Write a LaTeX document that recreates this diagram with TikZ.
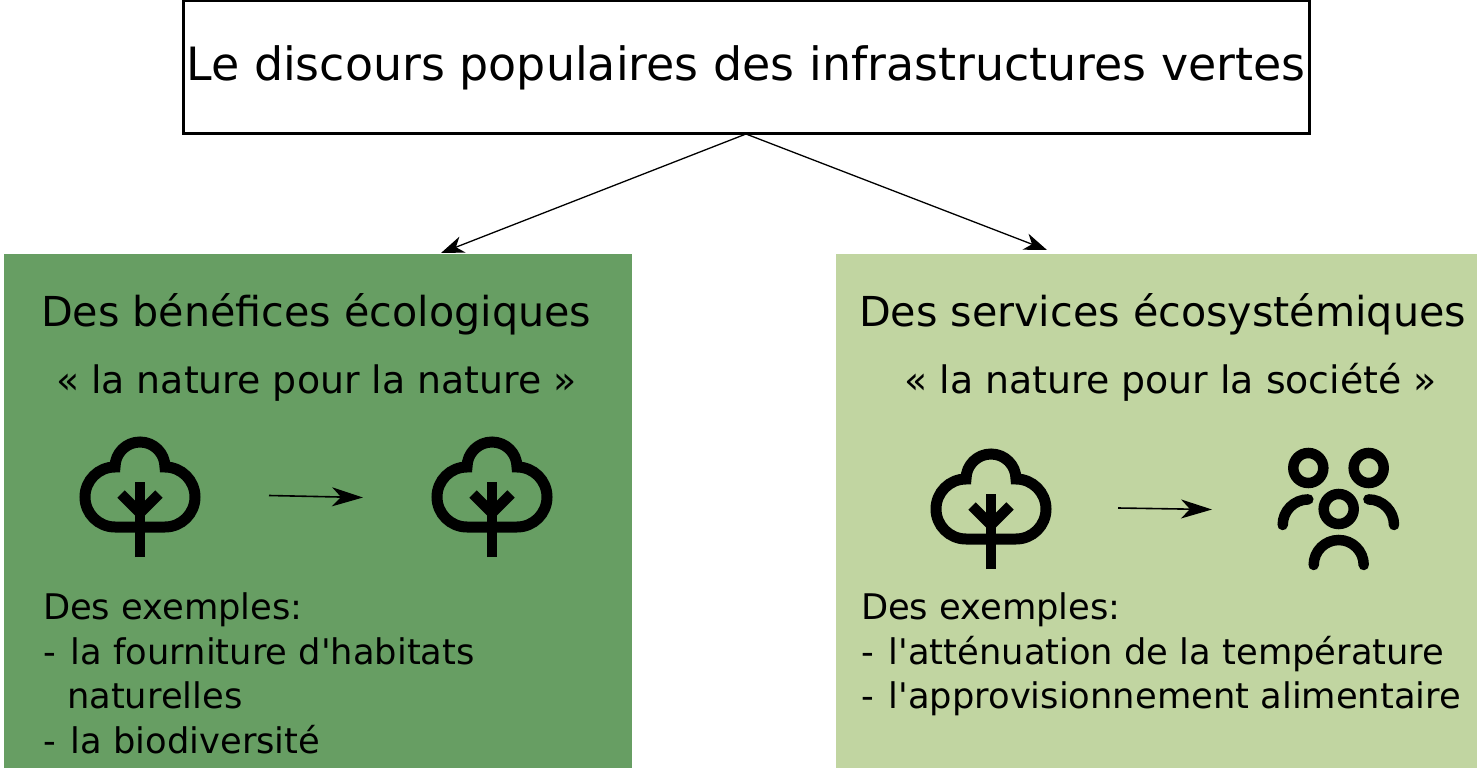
\documentclass[tikz,border=0pt]{standalone}
\usepackage{fontspec}
\newfontfamily\dejavu{DejaVu Sans}
\usetikzlibrary{arrows.meta,positioning}
\definecolor{boxgreen}{HTML}{679E63}
\definecolor{boxlight}{HTML}{C1D5A1}
\tikzset{
  treeicon/.pic={
    \draw[line width=11pt] (-25,-90) arc[start angle=180,end angle=360,radius=25]
      arc[start angle=-90,end angle=90,radius=30] -- (-25,-30)
      arc[start angle=90,end angle=270,radius=30] -- cycle;
    \draw[line width=10.5pt] (0,0) -- (0,-75);
    \draw[line width=10.5pt] (-19,-63) -- (0,-44) -- (19,-63);
  },
  peopleicon/.pic={
    \draw[line width=10.5pt] (-30.4,-41) circle (15);
    \draw[line width=10.5pt] (30,-41) circle (15);
    \draw[line width=10.5pt] (0,0) circle (15);
    \draw[line width=10.5pt,line cap=round] (-56,16) arc[start angle=180,end angle=270,radius=25.6];
    \draw[line width=10.5pt,line cap=round] (55.3,16) arc[start angle=0,end angle=-90,radius=25.6];
    \draw[line width=10.5pt,line cap=round] (-25,56) arc[start angle=180,end angle=360,radius=25];
  }
}
\newcommand{\dashitem}{-\hspace{15pt}}
\begin{document}
\begin{tikzpicture}[x=1pt,y=-1pt]
\tikzstyle{every node} = [inner sep=0pt, outer sep=0pt, text=black]
\tikzstyle{flow} = [-{Stealth[length=23pt,width=17pt,inset=7pt]}, line width=1.3pt]
\tikzstyle{link} = [-{Stealth[length=31pt,width=19pt,inset=9pt]}, line width=1.6pt]
\tikzstyle{panel} = [anchor=north west, minimum height=514pt]
\tikzstyle{heading} = [anchor=base west, font=\dejavu\fontsize{41.25}{48}\selectfont]
\tikzstyle{motto} = [anchor=base west, font=\dejavu\fontsize{37.85}{44}\selectfont]
\tikzstyle{body} = [anchor=north west, align=left, font=\dejavu\fontsize{35.3}{44.4}\selectfont]
\useasboundingbox (0,0) rectangle (1481,773);
\node (title) [draw, line width=3pt, minimum width=1126pt, minimum height=133pt, anchor=north west, font=\dejavu\fontsize{45.9}{54}\selectfont] at (183,1) {Le discours populaires des infrastructures vertes};
\node (eco) [panel, fill=boxgreen, minimum width=628pt] at (4,254) {};
\node (serv) [panel, fill=boxlight, minimum width=641pt] at (836,254) {};
% les deux branches
\coordinate (ecotip) at (441,253);
\coordinate (servtip) at (1047,250);
\draw[flow] (title.south) -- (ecotip);
\draw[flow] (title.south) -- (servtip);
% colonne de gauche
\node (ecohead) [heading] at (41,326) {Des bénéfices écologiques};
\node (ecomotto) [motto] at (56,393) {« la nature pour la nature »};
\pic at (140,557) {treeicon};
\pic at (492,557) {treeicon};
\coordinate (ecoa) at (269,495.5);
\coordinate (ecob) at (363,497.5);
\draw[link] (ecoa) -- (ecob);
\node (ecotext) [body] at (43,593) {Des exemples:\\\dashitem la fourniture d'habitats\\\hspace{24pt}naturelles\\\dashitem la biodiversité};
% colonne de droite
\node (servhead) [heading] at (859,326) {Des services écosystémiques};
\node (servmotto) [motto] at (904.5,393) {« la nature pour la société »};
\pic at (991,569) {treeicon};
\pic at (1338.7,509) {peopleicon};
\coordinate (serva) at (1118,508);
\coordinate (servb) at (1212,509.5);
\draw[link] (serva) -- (servb);
\node (servtext) [body] at (861,593) {Des exemples:\\\dashitem l'atténuation de la température\\\dashitem l'approvisionnement alimentaire};
\end{tikzpicture}
\end{document}
